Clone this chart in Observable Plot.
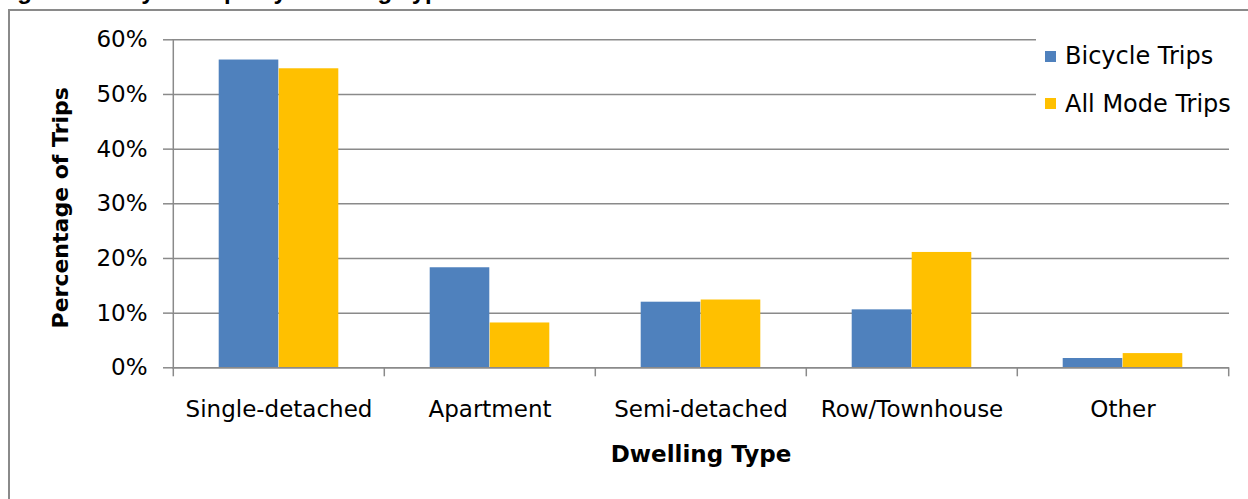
<!DOCTYPE html>
<html>
<head>
<meta charset="utf-8">
<script src="https://cdn.jsdelivr.net/npm/d3@7"></script>
<script src="https://cdn.jsdelivr.net/npm/@observablehq/plot@0.6"></script>
<style>
  html, body { margin: 0; padding: 0; background: #fff; overflow: hidden; width: 1248px; height: 499px; }
  #page { position: relative; width: 1248px; height: 499px; overflow: hidden; background: #fff; }
  #chart { position: absolute; left: 0; top: 0; }
  #frame { position: absolute; left: 8px; top: 9px; width: 1400px; height: 700px; border: 2px solid #8a8a8a; pointer-events: none; }
  #title { position: absolute; left: -4px; top: -21px; font: bold 24px "Liberation Sans", Arial, sans-serif; line-height: 24px; white-space: nowrap; color: #000; }
  #legend { position: absolute; left: 1036px; top: 30px; width: 212px; height: 92px; background: #fff; font: 24px "DejaVu Sans", sans-serif; color: #000; }
  .item { position: absolute; left: 9px; height: 28px; line-height: 28px; display: flex; align-items: center; white-space: nowrap; }
  .swatch { width: 11px; height: 11px; margin-right: 9px; }
</style>
</head>
<body>
<div id="page">
  <div id="chart"></div>
  <div id="frame"></div>
  <div id="title">Figure 5: Bicycle Trips by Dwelling Type</div>
  <div id="legend"></div>
</div>
<script>
// Share of trips by dwelling type of the trip maker
const categories = ["Single-detached", "Apartment", "Semi-detached", "Row/Townhouse", "Other"];
const bicycleTrips = [0.563, 0.183, 0.120, 0.106, 0.017];
const allModeTrips = [0.547, 0.082, 0.124, 0.211, 0.026];
const seriesNames = ["Bicycle Trips", "All Mode Trips"];
const seriesColors = ["#4F81BD", "#FFC000"];
const yTicks = [0, 0.1, 0.2, 0.3, 0.4, 0.5, 0.6];

// Layout
const W = 1248, H = 499;
const plotLeft = 172, plotRight = 1229, plotTop = 39.3, plotBottom = 367.3;
const step = (plotRight - plotLeft) / categories.length;
const groupFrac = 0.5676;                 // share of each category slot taken by the bar pair
const side = (1 - groupFrac) / 2 * step;  // empty space either side of a bar pair
const axisGray = "#8a8a8a";

const bicycleRows = categories.map((c, i) => ({category: c, value: bicycleTrips[i]}));
const allModeRows = categories.map((c, i) => ({category: c, value: allModeTrips[i]}));

const chart = Plot.plot({
  width: W,
  height: H,
  marginLeft: plotLeft,
  marginRight: W - plotRight,
  marginTop: plotTop,
  marginBottom: H - plotBottom,
  style: {fontFamily: "DejaVu Sans, sans-serif", fontSize: "23px", color: "#000", background: "transparent", overflow: "visible"},
  x: {domain: categories, padding: 0},
  y: {domain: [0, 0.6], nice: false},
  marks: [
    Plot.gridY(yTicks, {stroke: axisGray, strokeOpacity: 1, strokeWidth: 1.5}),
    Plot.barY(bicycleRows, {x: "category", y: "value", fill: seriesColors[0], insetLeft: side, insetRight: step / 2}),
    Plot.barY(allModeRows, {x: "category", y: "value", fill: seriesColors[1], insetLeft: step / 2, insetRight: side}),
    // value axis line and category axis line
    Plot.ruleX([categories[0]], {dx: -step / 2, y1: 0, y2: 0.6, stroke: axisGray, strokeWidth: 1.5}),
    Plot.ruleY([0], {stroke: axisGray, strokeWidth: 1.5}),
    // tick marks on the category boundaries
    Plot.axisX({tickSize: 9, tickFormat: () => "", dx: -step / 2, stroke: axisGray, strokeWidth: 1.5, label: null}),
    Plot.axisX([categories[categories.length - 1]], {tickSize: 9, tickFormat: () => "", dx: step / 2, stroke: axisGray, strokeWidth: 1.5, label: null}),
    // category labels
    Plot.axisX({tickSize: 0, tickPadding: 33, label: null}),
    Plot.axisY(yTicks, {tickSize: 9, tickPadding: 16, tickFormat: d3.format(".0%"), stroke: axisGray, strokeWidth: 1.5, label: null}),
    // axis titles
    Plot.text(["Percentage of Trips"], {frameAnchor: "left", textAnchor: "middle", dx: -112, dy: 4, rotate: -90, fontWeight: "bold", fontSize: 22}),
    Plot.text(["Dwelling Type"], {frameAnchor: "bottom", dy: 94, fontWeight: "bold", fontSize: 23})
  ]
});
document.getElementById("chart").appendChild(chart);

// Legend
const legend = document.getElementById("legend");
const legendTops = [12, 59.5];
seriesNames.forEach((name, i) => {
  const item = document.createElement("div");
  item.className = "item";
  item.style.top = legendTops[i] + "px";
  const sw = document.createElement("span");
  sw.className = "swatch";
  sw.style.background = seriesColors[i];
  const label = document.createElement("span");
  label.textContent = name;
  item.appendChild(sw);
  item.appendChild(label);
  legend.appendChild(item);
});
</script>
</body>
</html>
